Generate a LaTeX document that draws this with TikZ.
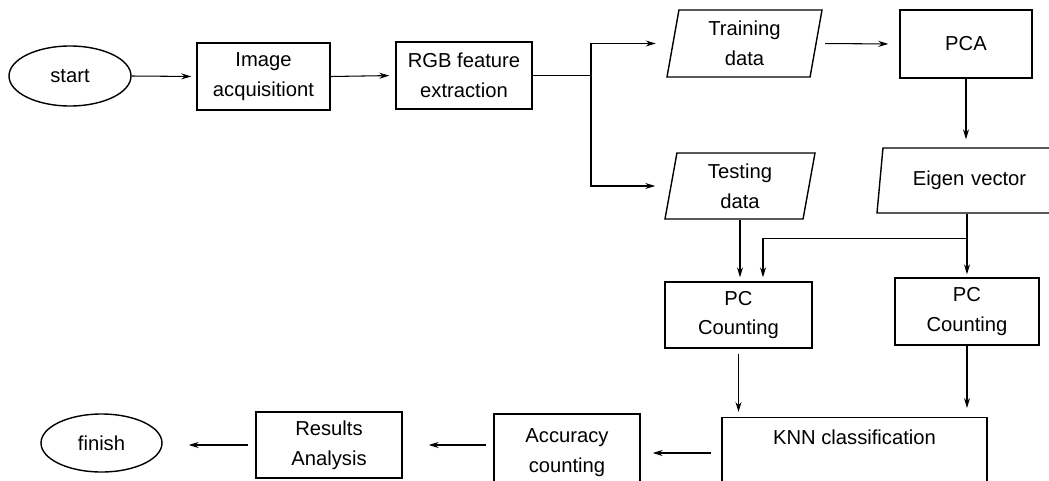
\documentclass[tikz,border=0pt]{standalone}
\usepackage{fontspec}
\setmainfont{Liberation Sans}
\usetikzlibrary{shapes.geometric,arrows.meta}

\begin{document}
\begin{tikzpicture}[
font=\fontsize{11.5}{17}\selectfont,
box/.style={draw,rectangle,line width=0.8pt,align=center,inner sep=2pt},
term/.style={draw,ellipse,line width=0.8pt,inner sep=1pt},
io/.style={draw,trapezium,trapezium left angle=77,trapezium right angle=103,
  trapezium stretches body,line width=0.8pt,align=center,inner sep=2pt},
arr/.style={-{Stealth[length=2mm,width=1.2mm]},line width=0.6pt}
]
\useasboundingbox (0,0) rectangle (20.98,9.60);

%Start
\node[term,minimum width=2.44cm,minimum height=1.2cm
] (start) at (1.40,8.08){start};

%Image acquisition
\node[box,minimum width=2.66cm,minimum height=1.34cm
] (img) at (5.27,8.07){Image\\acquisitiont};

%RGB features
\node[box,minimum width=2.72cm,minimum height=1.34cm
] (rgb) at (9.28,8.09){RGB feature\\extraction};

%Split point
\coordinate (split) at (11.82,8.09);

%Training data
\node[io,minimum width=3.1cm,minimum height=1.34cm
] (train) at (14.89,8.73){Training\\data};

%Testing data
\node[io,minimum width=3.0cm,minimum height=1.32cm
] (test) at (14.80,5.88){Testing\\data};

%PCA
\node[box,minimum width=2.64cm,minimum height=1.36cm
] (pca) at (19.32,8.72){PCA};

%Eigen vector
\node[io,minimum width=3.7cm,minimum height=1.30cm,text width=2.9cm
] (eigen) at (19.39,5.99){Eigen vector};

%PC counting left
\node[box,minimum width=2.94cm,minimum height=1.32cm
] (pcl) at (14.77,3.30){PC\\Counting};

%PC counting right
\node[box,minimum width=2.88cm,minimum height=1.34cm
] (pcr) at (19.34,3.37){PC\\Counting};

%KNN
\node[box,anchor=north,minimum width=5.3cm,text height=0.4cm,text depth=1.4cm,inner ysep=0.14cm
] (knn) at (17.09,1.26){KNN classification};

%Accuracy
\node[box,minimum width=2.92cm,minimum height=1.56cm
] (acc) at (11.34,0.54){Accuracy\\counting};

%Results
\node[box,minimum width=2.92cm,minimum height=1.32cm
] (res) at (6.58,0.70){Results\\Analysis};

%Finish
\node[term,minimum width=2.42cm,minimum height=1.16cm
] (fin) at (2.03,0.74){finish};


\draw[arr,shorten >=0.1cm] (start.east) -- (img.west);
\draw[arr,shorten >=0.12cm] (img.east) -- (rgb.west);
\draw[line width=0.6pt] (rgb.east) -- (split);
\draw[arr,shorten >=0.33cm] (split) |- (train.west);
\draw[arr,shorten >=0.3cm] (split) |- (test.west);
\draw[arr,shorten <=0.17cm,shorten >=0.22cm] (train.east) -- (pca.west);
\draw[arr,shorten >=0.16cm] (pca.south) -- (pca.south |- eigen.north);
\draw[arr,shorten >=0.08cm] (test.south) -- (test.south |- pcl.north);
\draw[arr,shorten >=0.06cm] (pcr.north |- eigen.south) -- (pcr.north);
\draw[arr,shorten >=0.08cm] ([yshift=-0.5cm]pcr.north |- eigen.south) -| ([xshift=0.49cm]pcl.north);
\draw[arr,shorten <=0.1cm,shorten >=0.1cm] (pcl.south) -- (pcl.south |- knn.north);
\draw[arr,shorten >=0.18cm] (pcr.south) -- (pcr.south |- knn.north);
\draw[arr,shorten <=0.2cm,shorten >=0.24cm] (knn.west |- acc) -- (acc.east);
\draw[arr,shorten <=0.14cm,shorten >=0.52cm] (acc.west |- res) -- (res.east);
\draw[arr,shorten <=0.14cm,shorten >=0.52cm] (res.west) -- (res.west -| fin.east);

\end{tikzpicture}
\end{document}
